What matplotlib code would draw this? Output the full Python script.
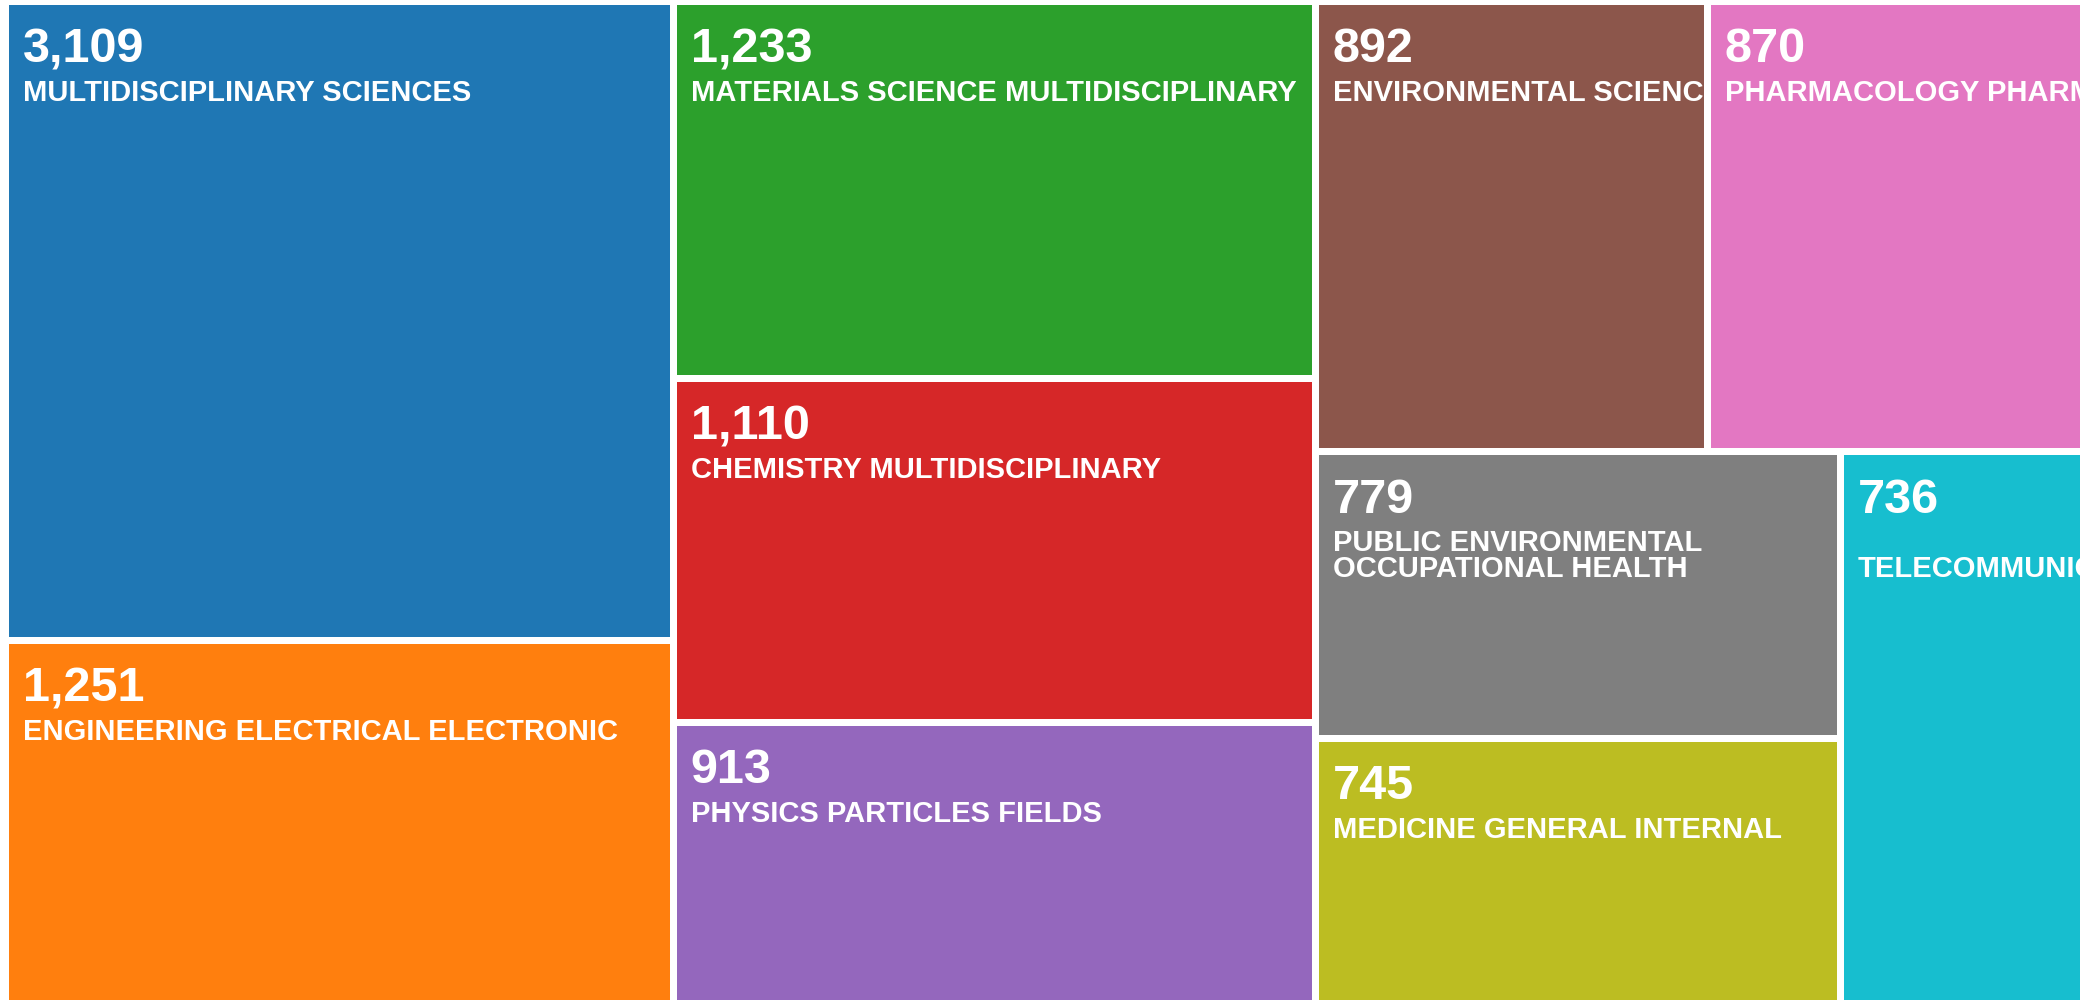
import matplotlib.pyplot as plt
from matplotlib.patches import Rectangle

# Web of Science categories and record counts (top 10)
categories = [
    "MULTIDISCIPLINARY SCIENCES",
    "ENGINEERING ELECTRICAL ELECTRONIC",
    "MATERIALS SCIENCE MULTIDISCIPLINARY",
    "CHEMISTRY MULTIDISCIPLINARY",
    "PHYSICS PARTICLES FIELDS",
    "ENVIRONMENTAL SCIENCES",
    "PHARMACOLOGY PHARMACY",
    "PUBLIC ENVIRONMENTAL\nOCCUPATIONAL HEALTH",
    "MEDICINE GENERAL INTERNAL",
    "\nTELECOMMUNICATIONS",
]
counts = [3109, 1251, 1233, 1110, 913, 892, 870, 779, 745, 736]

# relative tile areas as drawn in the chart (not exactly proportional to counts)
tile_area = [426.5, 242.0, 242.2, 220.7, 180.5, 176.6, 169.6, 150.2, 139.1, 134.2]

colors = ["#1f77b4", "#ff7f0e", "#2ca02c", "#d62728", "#9467bd",
          "#8c564b", "#e377c2", "#7f7f7f", "#bcbd22", "#17becf"]

PHI = (1 + 5 ** 0.5) / 2


def squarify(values, x0, y0, x1, y1, ratio=PHI):
    # same row-building rule as d3.treemapSquarify
    rects = [None] * len(values)
    n = len(values)
    total = float(sum(values))
    i0 = 0
    while i0 < n:
        dx, dy = x1 - x0, y1 - y0
        i1 = i0
        s = values[i1]
        i1 += 1
        lo = hi = s
        alpha = max(dy / dx, dx / dy) / (total * ratio)
        beta = s * s * alpha
        best = max(hi / beta, beta / lo)
        while i1 < n:
            v = values[i1]
            s2 = s + v
            lo2, hi2 = min(lo, v), max(hi, v)
            beta = s2 * s2 * alpha
            r = max(hi2 / beta, beta / lo2)
            if r > best:
                break
            s, lo, hi, best = s2, lo2, hi2, r
            i1 += 1
        if dx < dy:
            yb = y0 + dy * s / total
            xx = x0
            for i in range(i0, i1):
                w = dx * values[i] / s
                rects[i] = (xx, y0, w, yb - y0)
                xx += w
            y0 = yb
        else:
            xb = x0 + dx * s / total
            yy = y0
            for i in range(i0, i1):
                h = dy * values[i] / s
                rects[i] = (x0, yy, xb - x0, h)
                yy += h
            x0 = xb
        total -= s
        i0 = i1
    return rects


fig = plt.figure(figsize=(20.8, 10), dpi=100)
ax = fig.add_axes([0, 0, 1, 1])
ax.set_xlim(0, 2080)
ax.set_ylim(1000, 0)
ax.axis('off')

pad = 3.5
rects = squarify(tile_area, 5.5, 1.5, 2084, 1003)

for (x, y, w, h), cat, n, c in zip(rects, categories, counts, colors):
    patch = Rectangle((x + pad, y + pad), w - 2 * pad, h - 2 * pad,
                      facecolor=c, edgecolor='none')
    ax.add_patch(patch)
    t = ax.text(x + pad + 14, y + pad + 57.5, f"{n:,}", color='white',
                fontsize=35, fontweight='bold', family='Liberation Sans',
                va='baseline', ha='left', clip_on=True)
    t.set_clip_path(patch)
    for k, line in enumerate(cat.split("\n")):
        if not line:
            continue
        t = ax.text(x + pad + 14, y + pad + 96 + 26 * k, line, color='white',
                    fontsize=21, fontweight='bold', family='Liberation Sans',
                    va='baseline', ha='left', clip_on=True)
        t.set_clip_path(patch)

fig.savefig('out.png', dpi=100)
